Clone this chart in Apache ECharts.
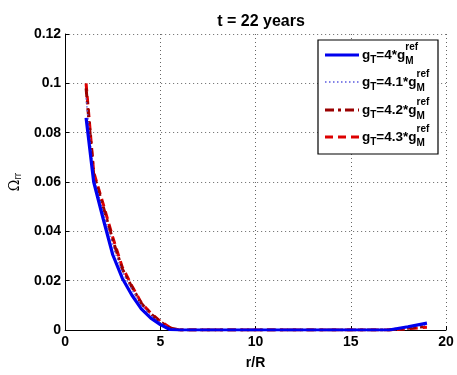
<!DOCTYPE html>
<html>
<head>
<meta charset="utf-8">
<script src="https://cdn.jsdelivr.net/npm/echarts@6/dist/echarts.min.js"></script>
<style>
html,body{margin:0;padding:0;background:#fff;}
#chart{width:457px;height:375px;}
</style>
</head>
<body>
<div id="chart"></div>
<script>
// Radial positions r/R
const radius = [1.1, 1.5, 2, 2.5, 3, 3.5, 4, 4.5, 5, 5.5, 6, 7, 8, 9, 10, 11, 12, 13, 14, 15, 16, 17, 18, 19];

// Omega_rr profiles for each g_T multiplier
const omegaG40 = [0.086, 0.060, 0.045, 0.0305, 0.021, 0.0142, 0.0086, 0.0048, 0.0022, 0.0002, 0, 0, 0, 0, 0, 0, 0, 0, 0, 0, 0, 0, 0.0013, 0.0028];
const omegaG41 = [0.094, 0.062, 0.048, 0.034, 0.0235, 0.0165, 0.0102, 0.0060, 0.0030, 0.0006, 0, 0, 0, 0, 0, 0, 0, 0, 0, 0, 0, 0, 0.0010, 0.0021];
const omegaG42 = [0.098, 0.063, 0.050, 0.0365, 0.0248, 0.0175, 0.0108, 0.0065, 0.0033, 0.0008, 0, 0, 0, 0, 0, 0, 0, 0, 0, 0, 0, 0, 0.0007, 0.0015];
const omegaG43 = [0.100, 0.064, 0.051, 0.0376, 0.0255, 0.018, 0.011, 0.0068, 0.0035, 0.0010, 0, 0, 0, 0, 0, 0, 0, 0, 0, 0, 0, 0, 0.0005, 0.0011];

const multipliers = ['4', '4.1', '4.2', '4.3'];
const xTicks = [0, 20, 5];
const yTicks = [0, 0.12, 0.02];

const seriesDefs = [
  {values: omegaG40, color: '#0000ee', width: 3.2, type: 'solid'},
  {values: omegaG41, color: '#5a5ae0', width: 1.3, type: [1.5, 2.5]},
  {values: omegaG42, color: '#990000', width: 3, type: [9, 4, 3, 4]},
  {values: omegaG43, color: '#dd0000', width: 3, type: [8, 5]}
];

const chart = echarts.init(document.getElementById('chart'));
const FONT = 'Liberation Sans, Arial, Helvetica, sans-serif';

const series = seriesDefs.map((d, i) => ({
  name: 'g' + multipliers[i],
  type: 'line',
  data: radius.map((r, k) => [r, d.values[k]]),
  showSymbol: false,
  symbol: 'none',
  lineStyle: {color: d.color, width: d.width, type: d.type, cap: 'butt'},
  z: 10 - i,
  animation: false
}));

// Legend box with stacked sub/superscripts
const measure = document.createElement('canvas').getContext('2d');
function textW(str, size) {
  measure.font = 'bold ' + size + 'px ' + FONT;
  return measure.measureText(str).width;
}
const legendX = 318, legendY = 40, legendW = 120, legendH = 114;
const rowY = [55, 82, 110, 137];
const legendGraphics = [{
  type: 'rect',
  shape: {x: legendX, y: legendY, width: legendW, height: legendH},
  style: {fill: '#fff', stroke: '#000', lineWidth: 1.2},
  z: 100
}];
const MAIN = 13.5, SMALL = 10;
seriesDefs.forEach((d, i) => {
  const y = rowY[i];
  legendGraphics.push({
    type: 'line',
    shape: {x1: 325, y1: y, x2: 359, y2: y},
    style: {stroke: d.color, lineWidth: d.width, lineDash: d.type === 'solid' ? null : d.type},
    z: 101
  });
  let x = 362;
  const parts = [];
  parts.push({t: 'g', x: x, y: y, size: MAIN});
  x += textW('g', MAIN);
  parts.push({t: 'T', x: x, y: y + 5, size: SMALL});
  x += textW('T', SMALL);
  const mid = '=' + multipliers[i] + '*g';
  parts.push({t: mid, x: x, y: y, size: MAIN});
  x += textW(mid, MAIN);
  parts.push({t: 'ref', x: x, y: y - 8, size: SMALL});
  parts.push({t: 'M', x: x, y: y + 6, size: SMALL});
  parts.forEach(p => legendGraphics.push({
    type: 'text',
    x: p.x, y: p.y,
    style: {text: p.t, font: 'bold ' + p.size + 'px ' + FONT, fill: '#000', textVerticalAlign: 'middle'},
    z: 102
  }));
});

chart.setOption({
  animation: false,
  backgroundColor: '#fff',
  title: {
    text: 't = 22 years',
    left: 256, top: 9, textAlign: 'center',
    textStyle: {fontFamily: FONT, fontWeight: 'bold', fontSize: 16, color: '#000'}
  },
  grid: {left: 65, right: 11, top: 34, bottom: 41, containLabel: false},
  xAxis: {
    type: 'value', min: xTicks[0], max: xTicks[1], interval: xTicks[2],
    name: 'r/R', nameLocation: 'middle', nameGap: 26,
    nameTextStyle: {fontFamily: FONT, fontWeight: 'bold', fontSize: 14, color: '#000'},
    axisLine: {show: true, lineStyle: {color: '#000', width: 1}},
    axisTick: {show: true, inside: true, length: 4, lineStyle: {color: '#000'}},
    axisLabel: {fontFamily: FONT, fontWeight: 'bold', fontSize: 14, color: '#000', margin: 5},
    splitLine: {show: true, lineStyle: {color: '#666', type: [1, 3], width: 1}}
  },
  yAxis: {
    type: 'value', min: yTicks[0], max: yTicks[1], interval: yTicks[2],
    name: '{o|Ω}{s|rr}', nameLocation: 'middle', nameGap: 38, nameRotate: 90,
    nameTextStyle: {
      rich: {
        o: {fontFamily: 'DejaVu Serif, serif', fontSize: 14, color: '#000'},
        s: {fontFamily: FONT, fontSize: 10, color: '#000', verticalAlign: 'bottom', padding: [6, 0, 0, 0]}
      }
    },
    axisLine: {show: true, lineStyle: {color: '#000', width: 1}},
    axisTick: {show: true, inside: true, length: 4, lineStyle: {color: '#000'}},
    axisLabel: {fontFamily: FONT, fontWeight: 'bold', fontSize: 14, color: '#000', margin: 4},
    splitLine: {show: true, lineStyle: {color: '#666', type: [1, 3], width: 1}}
  },
  series: series,
  graphic: legendGraphics
});
</script>
</body>
</html>
